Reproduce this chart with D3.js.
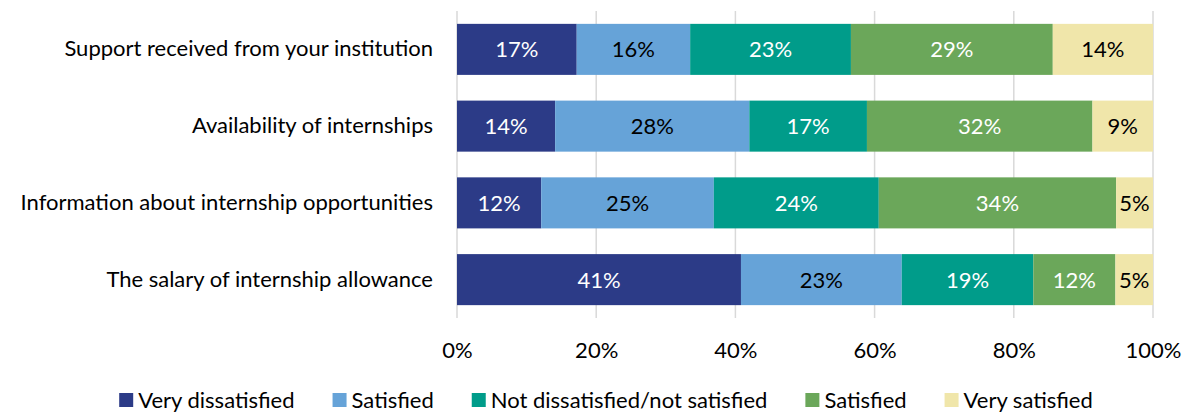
<!DOCTYPE html>
<html><head><meta charset="utf-8">
<script src="https://cdn.jsdelivr.net/npm/d3@7"></script>
<style>
html,body{margin:0;padding:0;background:#fff;}
svg text{font-family:Lato,"Open Sans",sans-serif;}
</style></head>
<body><svg id="c" width="1189" height="412"></svg>
<script>
const categories = ["Support received from your institution","Availability of internships","Information about internship opportunities","The salary of internship allowance"];
const seriesNames = ["Very dissatisfied","Satisfied","Not dissatisfied/not satisfied","Satisfied","Very satisfied"];
const veryDissatisfied = [17.2, 14.1, 12.1, 40.8];
const dissatisfied = [16.3, 27.9, 24.8, 23.1];
const neutral = [23.1, 16.9, 23.7, 18.9];
const satisfied = [29.0, 32.4, 34.1, 11.8];
const verySatisfied = [14.4, 8.7, 5.3, 5.4];
const tickValues = [0, 20, 40, 60, 80, 100];

(function(){
const colors = ["#2C3B87","#66A3D8","#009C8A","#6BA75A","#F0E6AA"];
const labelColors = ["#fff","#000","#fff","#fff","#000"];
const seriesValues = [veryDissatisfied, dissatisfied, neutral, satisfied, verySatisfied];
const FS = 22;

const rows = categories.map((c,i)=>{
  const o = {cat:c};
  seriesValues.forEach((s,k)=>{o["s"+k]=s[i];});
  return o;
});
const keys = seriesValues.map((_,k)=>"s"+k);
const stacked = d3.stack().keys(keys)(rows);

const svg = d3.select("#c");
const pL = 457, pR = 1153, pT = 11, pB = 318;
const x = d3.scaleLinear().domain([0,100]).range([pL,pR]);
const y = d3.scaleBand().domain(categories).range([pT,pB]).paddingInner(0.335).paddingOuter(0.1675);

svg.append("g").selectAll("line").data(tickValues).join("line")
  .attr("x1",d=>x(d)).attr("x2",d=>x(d)).attr("y1",pT).attr("y2",pB)
  .attr("stroke","#D9D9D9").attr("stroke-width",1.5);

const g = svg.append("g");
stacked.forEach((layer,k)=>{
  const lg = g.append("g");
  lg.selectAll("rect").data(layer).join("rect")
    .attr("x",d=>x(d[0])).attr("width",d=>x(d[1])-x(d[0]))
    .attr("y",d=>y(d.data.cat)).attr("height",y.bandwidth())
    .attr("fill",colors[k]);
  lg.selectAll("text").data(layer).join("text")
    .attr("x",d=>(x(d[0])+x(d[1]))/2)
    .attr("y",d=>y(d.data.cat)+y.bandwidth()/2)
    .attr("dy","0.36em").attr("text-anchor","middle")
    .attr("font-size",FS).attr("fill",labelColors[k])
    .text(d=>Math.round(d[1]-d[0])+"%");
});

const ax = d3.axisLeft(y).tickSize(0).tickPadding(24);
const ag = svg.append("g").attr("transform",`translate(${pL},0)`).call(ax);
ag.select(".domain").remove();
ag.selectAll("text").attr("font-size",FS).attr("fill","#000").style("font-family","Lato");

const bx = d3.axisBottom(x).tickValues(tickValues).tickFormat(d=>d+"%").tickSize(0).tickPadding(24);
const bg = svg.append("g").attr("transform",`translate(0,${pB})`).call(bx);
bg.select(".domain").remove();
bg.selectAll("text").attr("font-size",FS).attr("fill","#000").style("font-family","Lato");

const leg = svg.append("g");
let cx = 0;
seriesNames.forEach((n,k)=>{
  const it = leg.append("g");
  it.append("rect").attr("x",0).attr("y",-7).attr("width",14).attr("height",14).attr("fill",colors[k]);
  const t = it.append("text").attr("x",19).attr("y",0).attr("dy","0.36em").attr("font-size",FS).attr("fill","#000").text(n);
  const w = 19 + t.node().getComputedTextLength();
  it.attr("transform",`translate(${cx},0)`);
  cx += w + 38;
});
const totalW = cx - 38;
leg.attr("transform",`translate(${606 - totalW/2},400)`);
})();
</script></body></html>
